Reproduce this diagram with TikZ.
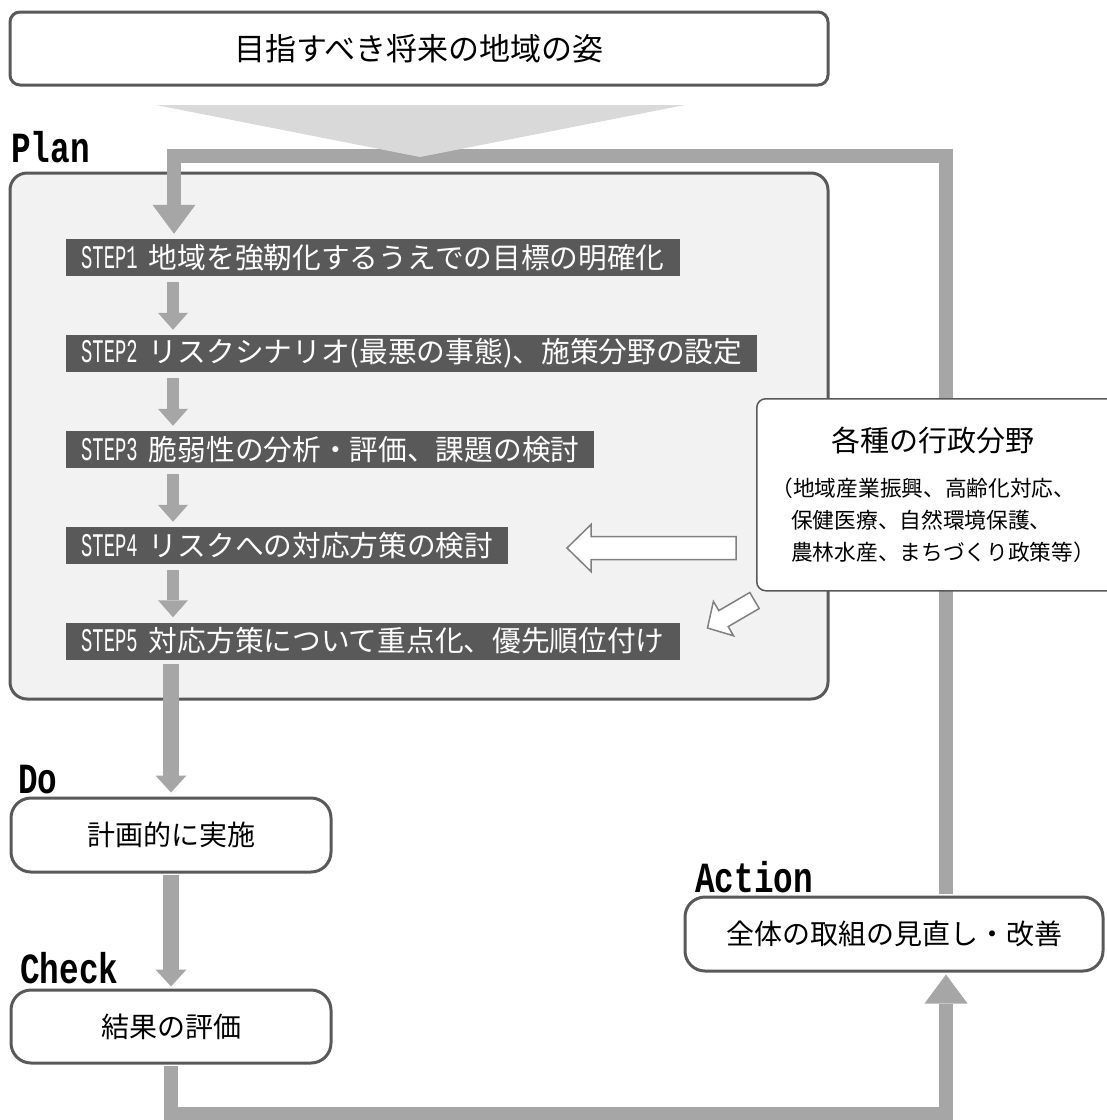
\documentclass[tikz,border=0pt]{standalone}
\usepackage{fontspec}
\setmainfont{Noto Sans CJK JP}
\newfontfamily\phasefont[FakeStretch=0.76]{Liberation Mono}
\newfontfamily\stepfont[FakeStretch=0.57]{Liberation Mono}
\usetikzlibrary{arrows.meta,calc,positioning}
\definecolor{linegray}{HTML}{595959}
\definecolor{flowgray}{HTML}{A6A6A6}
\definecolor{planfill}{HTML}{F2F2F2}
\definecolor{funnel}{HTML}{D9D9D9}
\definecolor{outlinegray}{HTML}{808080}

\begin{document}
\begin{tikzpicture}[x=1pt,y=-1pt]
  \tikzstyle{box}=[rectangle,rounded corners=20pt,draw=linegray,line width=3pt,fill=white,font=\fontsize{28}{34}\selectfont]
  \tikzstyle{stepbar}=[rectangle,fill=linegray,text=white,anchor=west,inner xsep=15pt,inner ysep=0pt,minimum height=37pt,font=\fontsize{28.7}{34}\selectfont]
  \tikzstyle{phase}=[anchor=base west,inner sep=0pt,font=\fontsize{43}{46}\selectfont\phasefont\bfseries]
  \tikzstyle{loopflow}=[draw=flowgray,line width=14pt,-{Triangle[width=43pt,length=29pt,line width=0pt]}]
  \tikzstyle{flow}=[draw=flowgray,line width=16pt,-{Triangle[width=31pt,length=17pt,line width=0pt]}]
  \tikzstyle{stepflow}=[draw=flowgray,line width=12pt,-{Triangle[width=30pt,length=17pt,line width=0pt]}]
  \tikzstyle{hollow}=[draw=outlinegray,fill=white,line width=1.5pt,line join=miter]

  \useasboundingbox (0,0) rectangle (1107,1120);
  \clip (0,0) rectangle (1107,1120);

  \node[box,rounded corners=10pt,minimum width=818pt,minimum height=73pt,font=\fontsize{31}{36}\selectfont] (goal) at (419,48.5) {目指すべき将来の地域の姿};
  \node[box,rounded corners=17pt,fill=planfill,minimum width=818pt,minimum height=526pt] (plan) at (419,436) {};
  \node[phase] (planlbl) at (11,162) {Plan};

  \node[stepbar] (step1) at (66,257.5) {{\fontsize{33}{34}\stepfont STEP1 }地域を強靭化するうえでの目標の明確化};
  \node[stepbar] (step2) at (66,353.5) {{\fontsize{33}{34}\stepfont STEP2 }リスクシナリオ(最悪の事態)、施策分野の設定};
  \node[stepbar] (step3) at (66,449.5) {{\fontsize{33}{34}\stepfont STEP3 }脆弱性の分析・評価、課題の検討};
  \node[stepbar] (step4) at (66,545.5) {{\fontsize{33}{34}\stepfont STEP4 }リスクへの対応方策の検討};
  \node[stepbar] (step5) at (66,641) {{\fontsize{33}{34}\stepfont STEP5 }対応方策について重点化、優先順位付け};

  \coordinate (stepx) at (173,0);
  \foreach \a/\b in {step1/step2,step2/step3,step3/step4,step4/step5}
    \draw[stepflow] ($(\a.south -| stepx)+(0,6)$) -- ($(\b.north -| stepx)+(0,-5)$);

  \node[box,minimum width=320pt,minimum height=74pt] (do) at (171,835) {計画的に実施};
  \node[box,minimum width=320pt,minimum height=73pt] (check) at (171,1026.5) {結果の評価};
  \node[box,minimum width=418pt,minimum height=74pt] (action) at (894,934) {全体の取組の見直し・改善};
  \node[phase] (dolbl) at (18,793) {Do};
  \node[phase] (checklbl) at (20,983) {Check};
  \node[phase] (actionlbl) at (695,892) {Action};

  \draw[flow] ($(step5.south -| do.north)+(0,4)$) -- ($(do.north)+(0,-4)$);
  \draw[flow] ($(do.south)+(0,1.5)$) -- ($(check.north)+(0,-2)$);

  % PDCA loop
  \coordinate (loopTR) at (946,155.5);
  \coordinate (loopTL) at (174,155.5);
  \coordinate (loopBL) at (171,1113.5);
  \coordinate (loopBR) at (946,1113.5);
  \draw[loopflow] ($(action.north -| loopTR)+(0,-1.5)$) -- (loopTR) -- (loopTL) -- ($(step1.north -| loopTL)+(0,-5)$);
  \draw[loopflow] ($(check.south)+(0,1.5)$) -- (loopBL) -- (loopBR) -- ($(action.south -| loopBR)+(0,2)$);

  \fill[funnel] (156,105) -- (685,105) -- (420,157) -- cycle;

  \node[rectangle,rounded corners=9pt,draw=linegray,line width=1.5pt,fill=white,anchor=north west,minimum width=370pt,minimum height=192pt] (gyosei) at (756,398) {};
  \node[anchor=base,inner sep=0pt,font=\fontsize{29}{34}\selectfont] (gyoseititle) at (933,451) {各種の行政分野};
  \node[anchor=base west,inner sep=0pt,font=\fontsize{21.7}{32}\selectfont] (gyosei1) at (793,496) {\llap{（}地域産業振興、高齢化対応、};
  \node[anchor=base west,inner sep=0pt,font=\fontsize{21.7}{32}\selectfont] (gyosei2) at (791,528) {保健医療、自然環境保護、};
  \node[anchor=base west,inner sep=0pt,font=\fontsize{21.7}{32}\selectfont] (gyosei3) at (791,560) {農林水産、まちづくり政策等）};

  \draw[hollow] (736,536.5) -- (591,536.5) -- (591,524.5) -- (567,548) -- (591,571.5) -- (591,559.5) -- (736,559.5) -- cycle;
  \draw[hollow] (749.8,592.5) -- (718.8,610.6) -- (713.4,601.4) -- (707.5,628) -- (733.6,635.8) -- (728.2,626.6) -- (759.2,608.5) -- cycle;
\end{tikzpicture}
\end{document}
